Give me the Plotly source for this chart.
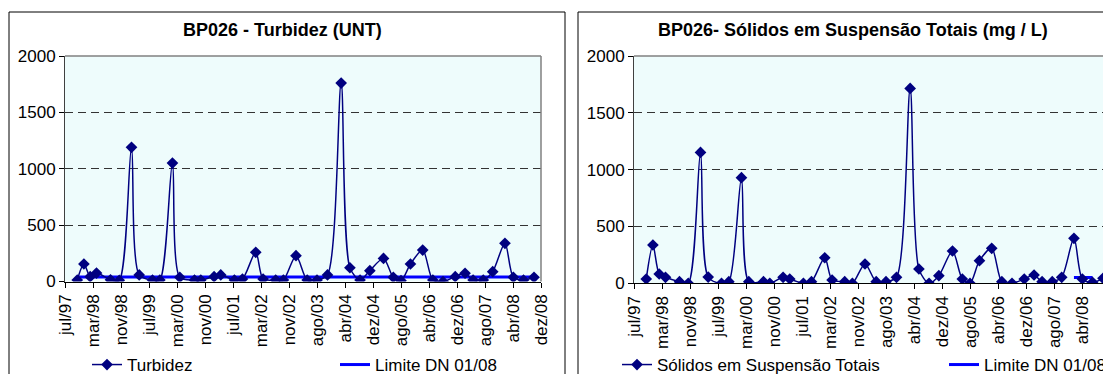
import plotly.graph_objects as go

# ---------------- data ----------------
sample_dates = [
    "1997-10-16", "1997-12-13", "1998-02-07", "1998-04-01", "1998-08-01", "1998-10-16",
    "1999-02-01", "1999-04-07", "1999-08-01", "1999-10-04", "2000-01-22", "2000-03-25",
    "2000-08-01", "2000-09-25", "2001-01-19", "2001-03-16", "2001-07-13", "2001-09-22",
    "2002-01-16", "2002-03-19", "2002-07-07", "2002-09-13", "2003-01-01", "2003-04-07",
    "2003-07-01", "2003-10-01", "2004-01-28", "2004-04-13", "2004-07-10", "2004-10-04",
    "2005-02-01", "2005-04-25", "2005-07-01", "2005-09-22", "2006-01-07", "2006-04-04",
    "2006-07-01", "2006-10-16", "2007-01-10", "2007-03-19", "2007-06-16", "2007-09-07",
    "2007-12-22", "2008-03-04", "2008-06-01", "2008-09-01",
]

turbidez = [
    13, 155, 43, 75, 15, 10, 1190, 58, 13, 13, 1050, 37, 13, 13, 43, 58, 13, 22,
    259, 22, 13, 13, 229, 13, 13, 58, 1760, 122, 13, 96, 205, 37, 7, 155, 279, 13,
    0, 43, 73, 13, 13, 87, 339, 37, 13, 37,
]
limite_turbidez = [40] * len(sample_dates)

sst = [
    38, 337, 82, 53, 14, 0, 1152, 55, 0, 14, 929, 14, 14, 0, 53, 38, 0, 14,
    225, 29, 14, 0, 170, 14, 14, 53, 1715, 126, 0, 67, 284, 38, 0, 199, 308, 14,
    0, 38, 73, 14, 14, 53, 396, 38, 9, 44,
]
limite_sst = [None] * 42 + [50, 50, 50, None]

tick_labels = ["jul/97", "mar/98", "nov/98", "jul/99", "mar/00", "nov/00", "jul/01",
               "mar/02", "nov/02", "ago/03", "abr/04", "dez/04", "ago/05", "abr/06",
               "dez/06", "ago/07", "abr/08", "dez/08"]

# months since jul/97 (axis origin)
def month_index(d):
    y, m, day = (int(p) for p in d.split("-"))
    return (y - 1997) * 12 + (m - 7) + (day - 1) / 30.0

xm = [month_index(d) for d in sample_dates]
tick_pos = [8 * i for i in range(len(tick_labels))]

# ---------------- layout helpers ----------------
OFF = 8                      # page body margin
W, H = 1111 - OFF, 374 - OFF
def px(x):
    return (x - OFF) / W
def py(y):
    return 1 - (y - OFF) / H

FONT = "Liberation Sans, Arial, sans-serif"
NAVY = "#000080"
BLUE = "#0000FF"

fig = go.Figure()

# limit lines first so the data markers sit on top of them
fig.add_trace(go.Scatter(x=xm, y=limite_turbidez, name="Limite DN 01/08", mode="lines",
                         line=dict(color=BLUE, width=3), legendrank=2,
                         xaxis="x", yaxis="y", legend="legend"))
fig.add_trace(go.Scatter(x=xm, y=turbidez, name="Turbidez", mode="lines+markers",
                         line=dict(color=NAVY, width=1.5, shape="spline", smoothing=0.8),
                         marker=dict(symbol="diamond", size=9, color=NAVY), legendrank=1,
                         xaxis="x", yaxis="y", legend="legend"))
fig.add_trace(go.Scatter(x=xm, y=limite_sst, name="Limite DN 01/08", mode="lines",
                         line=dict(color=BLUE, width=3), legendrank=2,
                         xaxis="x2", yaxis="y2", legend="legend2"))
fig.add_trace(go.Scatter(x=xm, y=sst, name="Sólidos em Suspensão Totais", mode="lines+markers",
                         line=dict(color=NAVY, width=1.5, shape="spline", smoothing=0.8),
                         marker=dict(symbol="diamond", size=9, color=NAVY), legendrank=1,
                         xaxis="x2", yaxis="y2", legend="legend2"))

def xaxis_cfg(d0, d1, anchor):
    return dict(domain=[d0, d1], anchor=anchor, range=[0, 136], automargin=False,
                tickmode="array", tickvals=tick_pos, ticktext=tick_labels,
                tickangle=-90, ticks="outside", ticklen=5, tickcolor="black",
                showline=True, linecolor="black", linewidth=1,
                showgrid=False, zeroline=False,
                tickfont=dict(family=FONT, size=17, color="black"))

def yaxis_cfg(d0, d1, anchor):
    return dict(domain=[d0, d1], anchor=anchor, range=[0, 2000], dtick=500, automargin=False,
                ticks="outside", ticklen=5, tickcolor="black",
                showline=True, linecolor="#404040", linewidth=1,
                showgrid=True, gridcolor="#333333", griddash="8px,5px", gridwidth=1,
                zeroline=False,
                tickfont=dict(family=FONT, size=17, color="black"))

fig.update_layout(
    width=W, height=H,
    margin=dict(l=0, r=0, t=0, b=0, autoexpand=False),
    paper_bgcolor="white",
    plot_bgcolor="#eefcfc",
    xaxis=xaxis_cfg(px(65), px(541), "y"),
    yaxis=yaxis_cfg(py(281.5), py(56), "x"),
    xaxis2=xaxis_cfg(px(634), px(1110), "y2"),
    yaxis2=yaxis_cfg(py(283.3), py(56), "x2"),
    legend=dict(orientation="h", x=px(87), y=py(365), xanchor="left", yanchor="middle",
                entrywidth=203, entrywidthmode="pixels", bgcolor="rgba(0,0,0,0)",
                font=dict(family=FONT, size=17, color="black"), itemclick=False),
    legend2=dict(orientation="h", x=px(617), y=py(365), xanchor="left", yanchor="middle",
                 entrywidth=282, entrywidthmode="pixels", bgcolor="rgba(0,0,0,0)",
                 font=dict(family=FONT, size=17, color="black"), itemclick=False),
    showlegend=True,
)

# titles
fig.add_annotation(text="<b>BP026 - Turbidez (UNT)</b>", x=px(282), y=py(30),
                   xref="paper", yref="paper", xanchor="center", yanchor="middle", showarrow=False,
                   font=dict(family=FONT, size=18, color="black"))
fig.add_annotation(text="<b>BP026- Sólidos em Suspensão Totais (mg / L)</b>", x=px(853), y=py(30),
                   xref="paper", yref="paper", xanchor="center", yanchor="middle", showarrow=False,
                   font=dict(family=FONT, size=18, color="black"))

# chart frames (outer borders)
fig.add_shape(type="rect", xref="paper", yref="paper", x0=px(9), x1=px(565), y0=py(400), y1=py(12),
              line=dict(color="black", width=1), layer="above")
fig.add_shape(type="rect", xref="paper", yref="paper", x0=px(578), x1=px(1140), y0=py(400), y1=py(12),
              line=dict(color="black", width=1), layer="above")

# plot-area top/right borders (gray)
for xr, yr in (("x", "y"), ("x2", "y2")):
    fig.add_shape(type="line", xref=f"{xr} domain", yref=f"{yr} domain", x0=0, x1=1, y0=1, y1=1,
                  line=dict(color="#808080", width=1.5), layer="above")
    fig.add_shape(type="line", xref=f"{xr} domain", yref=f"{yr} domain", x0=1, x1=1, y0=0, y1=1,
                  line=dict(color="#808080", width=1.5), layer="above")

fig.write_html("out.html")
